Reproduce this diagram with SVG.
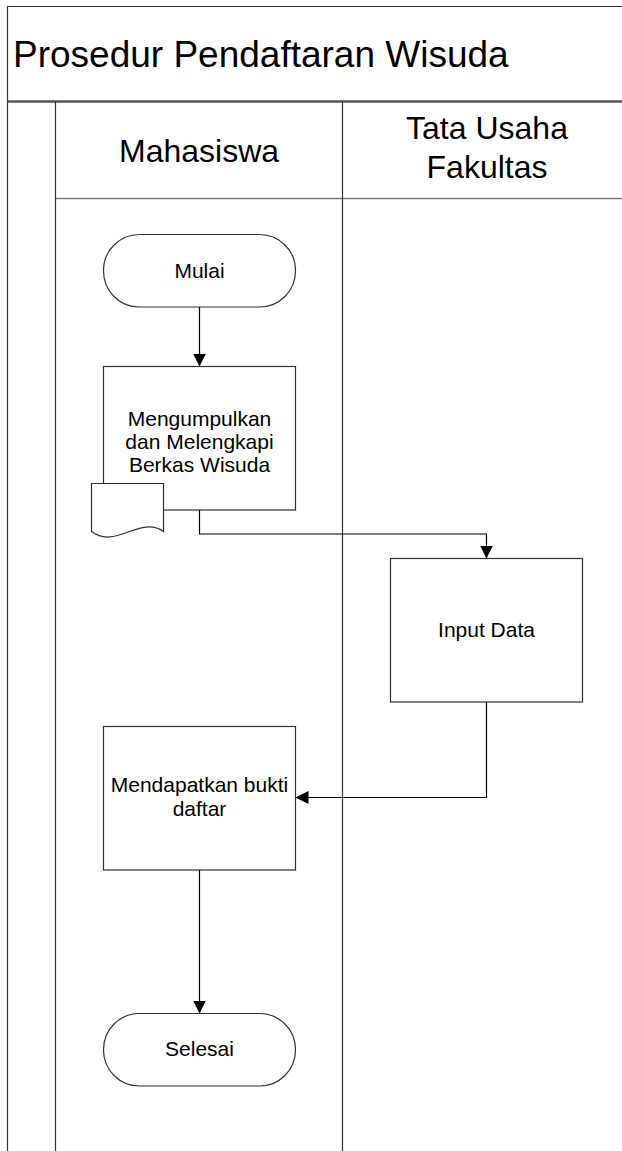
<svg xmlns="http://www.w3.org/2000/svg" width="622" height="1151" viewBox="0 0 622 1151">
  <style>
    text { font-family: "Liberation Sans", Arial, sans-serif; fill: #000; }
    .title { font-size: 37px; }
    .lane { font-size: 32px; text-anchor: middle; }
    .lbl { font-size: 21px; text-anchor: middle; }
    .frame { stroke: #333; stroke-width: 1.2; fill: none; }
    .shape { fill: #fff; stroke: #333; stroke-width: 1.2; }
    .conn { fill: none; stroke: #000; stroke-width: 1.2; marker-end: url(#arrow); }
  </style>
  <defs>
    <marker id="arrow" markerUnits="userSpaceOnUse" markerWidth="13" markerHeight="13" refX="13" refY="6.5" orient="auto">
      <path d="M0,0 L13,6.5 L0,13 Z" fill="#000"/>
    </marker>
  </defs>
  <rect width="622" height="1151" fill="#fff"/>

  <g id="pool">
    <path class="frame" d="M7.5,1151 V6.5 H622"/>
    <path d="M7.5,101.5 H622" stroke="#555" stroke-width="2.4" fill="none"/>
    <path d="M55.5,198.5 H622" stroke="#777" stroke-width="1.6" fill="none"/>
    <path class="frame" d="M55.5,101.5 V1151"/>
    <path class="frame" d="M342.5,101.5 V1151"/>
    <text class="title" x="13" y="67">Prosedur Pendaftaran Wisuda</text>
  </g>

  <g id="lane-mahasiswa">
    <text class="lane" x="199" y="162">Mahasiswa</text>
  </g>
  <g id="lane-tu">
    <text class="lane" x="487" y="139">Tata Usaha</text>
    <text class="lane" x="487" y="178">Fakultas</text>
  </g>

  <g id="connectors">
    <path class="conn" d="M199.5,307 V366.5"/>
    <path class="conn" d="M199.5,510 V534 H486.5 V558.5"/>
    <path class="conn" d="M486.5,702 V797.5 H295.5"/>
    <path class="conn" d="M199.5,870 V1013.5"/>
  </g>

  <g id="mulai">
    <rect class="shape" x="103.5" y="234.5" width="192" height="72.5" rx="36" ry="36"/>
    <text class="lbl" x="199.5" y="278">Mulai</text>
  </g>

  <g id="mengumpulkan">
    <rect class="shape" x="103.5" y="366.5" width="192" height="143.5"/>
    <text class="lbl" x="199.5" y="426">Mengumpulkan</text>
    <text class="lbl" x="199.5" y="449">dan Melengkapi</text>
    <text class="lbl" x="199.5" y="472">Berkas Wisuda</text>
  </g>

  <g id="dokumen">
    <path class="shape" d="M91.5,483.5 H163.5 V531.5 C140,515 115,550 91.5,531.5 Z"/>
  </g>

  <g id="input-data">
    <rect class="shape" x="390.5" y="558.5" width="192" height="143.5"/>
    <text class="lbl" x="486.5" y="637">Input Data</text>
  </g>

  <g id="mendapatkan">
    <rect class="shape" x="103.5" y="726.5" width="192" height="143.5"/>
    <text class="lbl" x="199.5" y="792">Mendapatkan bukti</text>
    <text class="lbl" x="199.5" y="816">daftar</text>
  </g>

  <g id="selesai">
    <rect class="shape" x="103.5" y="1013.5" width="192" height="72.5" rx="36" ry="36"/>
    <text class="lbl" x="199.5" y="1056">Selesai</text>
  </g>
</svg>
